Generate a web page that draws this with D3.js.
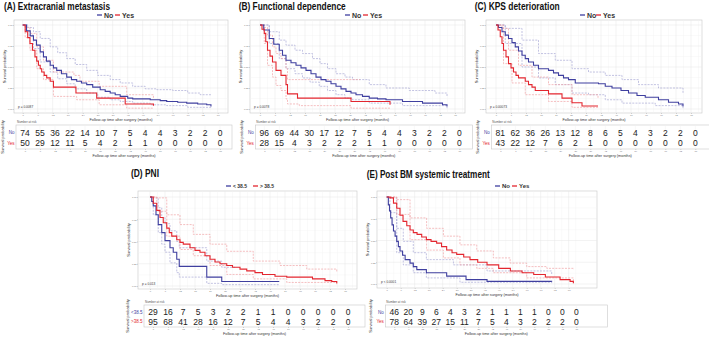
<!DOCTYPE html>
<html>
<head>
<meta charset="utf-8">
<script src="https://cdn.jsdelivr.net/npm/d3@7"></script>
<style>
  body { margin: 0; background: #fff; }
  svg { display: block; font-family: "Liberation Sans", Arial, sans-serif; }
</style>
</head>
<body>
<script>
// x tick labels (months) shared by every panel
var months = [0, 6, 12, 18, 24, 30, 36, 42, 48, 54, 60, 66, 72, 78];
var yTicks = [0, 0.25, 0.5, 0.75, 1];

// ---- (A) Extracranial metastasis
var A_no = [[0,1],[1.5,0.93],[3,0.87],[4.3,0.82],[5.5,0.76],[7,0.68],[8.3,0.62],[9.5,0.57],[11,0.52],[12.3,0.49],[13.6,0.46],[15.5,0.42],[17.6,0.38],[19.5,0.35],[21.6,0.33],[23.5,0.31],[25.6,0.29],[28,0.26],[31,0.23],[33,0.21],[35,0.19],[37,0.17],[39,0.15],[42,0.13],[44,0.12],[51,0.11],[55,0.10],[57.6,0.09],[62,0.08],[65.6,0.07],[70,0.06],[73.6,0.05],[75.3,0.03]];
var A_no_hi = [[0,1],[2,0.97],[4.3,0.92],[7,0.84],[11,0.74],[14,0.67],[17.6,0.60],[21,0.53],[25.6,0.46],[30,0.40],[35,0.35],[39,0.31],[44,0.27],[49,0.24],[53.6,0.23],[60,0.22],[66,0.19],[71,0.17],[75.3,0.17]];
var A_no_lo = [[0,1],[2,0.88],[4.3,0.72],[7,0.56],[11,0.44],[14,0.36],[17.6,0.30],[21,0.24],[25.6,0.19],[30,0.14],[35,0.11],[39,0.09],[44,0.07],[51,0.05],[57.6,0.04],[66,0.02],[75.3,0.01]];
var A_yes = [[0,1],[1,0.92],[2,0.85],[2.9,0.78],[3.9,0.70],[4.9,0.62],[5.6,0.57],[6.3,0.52],[7,0.48],[7.6,0.44],[8.6,0.40],[9.6,0.37],[11,0.33],[12.3,0.26],[21.3,0.19],[29.6,0.13],[41,0.06],[52.3,0.04]];
var A_yes_hi = [[0,1],[1,0.97],[2.9,0.90],[5.6,0.74],[8.3,0.58],[12.3,0.44],[20.5,0.40],[22.9,0.33],[30.6,0.27],[41.6,0.17],[52.3,0.13]];
var A_yes_lo = [[0,1],[1,0.85],[2.9,0.70],[5.6,0.48],[8.3,0.35],[12.3,0.15],[21.6,0.11],[30.6,0.05],[41.6,0.01],[52.3,0.01]];
var A_risk_no = [74, 55, 36, 22, 14, 10, 7, 5, 4, 4, 3, 2, 2, 0];
var A_risk_yes = [50, 29, 12, 11, 5, 4, 2, 1, 1, 0, 0, 0, 0, 0];

// ---- (B) Functional dependence
var B_no = [[0,1],[1.5,0.94],[3.7,0.84],[5.5,0.77],[7.7,0.70],[9,0.64],[10.4,0.58],[12.4,0.55],[14.4,0.52],[16.4,0.49],[18.4,0.46],[20.4,0.42],[22.4,0.38],[24.4,0.35],[26.4,0.33],[28.4,0.30],[30.4,0.27],[32.4,0.24],[34.4,0.21],[36.4,0.19],[38.4,0.17],[41,0.15],[43.7,0.13],[47,0.12],[50.4,0.11],[57,0.09],[65,0.07],[73,0.05],[74.8,0.03]];
var B_no_hi = [[0,1],[3.7,0.92],[7.7,0.82],[10.4,0.76],[14,0.70],[17,0.66],[21,0.60],[24,0.54],[27,0.48],[30.4,0.42],[34,0.38],[37,0.35],[43.7,0.29],[50.4,0.25],[59.7,0.22],[70,0.19],[74.8,0.15]];
var B_no_lo = [[0,1],[3.7,0.78],[7.7,0.60],[10.4,0.48],[14,0.42],[17,0.37],[20,0.32],[23.7,0.27],[27,0.22],[30.4,0.17],[34,0.13],[37,0.11],[43.7,0.07],[57,0.04],[74.8,0.01]];
var B_yes = [[0,1],[0.8,0.95],[1.7,0.90],[2.3,0.80],[3,0.70],[4,0.63],[5,0.56],[6.4,0.46],[8.4,0.40],[10.4,0.29],[11,0.18],[15,0.13],[36.4,0.09],[52,0.05]];
var B_yes_hi = [[0,1],[1.7,0.97],[3,0.88],[5,0.74],[6.4,0.66],[8.4,0.60],[10.4,0.48],[11,0.35],[40,0.35]];
var B_yes_lo = [[0,1],[1.7,0.78],[3,0.52],[5,0.38],[6.4,0.28],[8.4,0.22],[10.4,0.12],[11,0.06],[15.7,0.04],[36.4,0.01],[52,0.01]];
var B_risk_no = [96, 69, 44, 30, 17, 12, 7, 5, 4, 4, 3, 2, 2, 0];
var B_risk_yes = [28, 15, 4, 3, 2, 2, 2, 1, 1, 0, 0, 0, 0, 0];

// ---- (C) KPS deterioration
var C_no = [[0,1],[1,0.97],[2.4,0.92],[3.7,0.88],[5,0.84],[6.4,0.79],[7.7,0.74],[9,0.69],[10.4,0.64],[11.7,0.60],[13,0.56],[15,0.52],[17,0.48],[21,0.46],[23,0.43],[25,0.40],[27,0.37],[29,0.35],[31.7,0.31],[41,0.30],[43.7,0.27],[46.4,0.25],[50,0.22],[53,0.19],[56.4,0.16],[59.7,0.14],[65,0.11],[69,0.08],[73,0.06],[74.8,0.03]];
var C_no_hi = [[0,1],[3.7,0.96],[10.4,0.82],[17,0.66],[23.7,0.58],[30.4,0.48],[37,0.44],[43.7,0.40],[50.4,0.35],[57,0.29],[65,0.25],[74.8,0.19]];
var C_no_lo = [[0,1],[3.7,0.78],[10.4,0.50],[17,0.37],[23.7,0.29],[30.4,0.19],[37,0.17],[43.7,0.11],[50.4,0.07],[63.7,0.04],[74.8,0.01]];
var C_yes = [[0,1],[0.8,0.94],[1.7,0.86],[2.4,0.78],[3,0.70],[4,0.62],[5,0.54],[6,0.49],[7,0.44],[8,0.40],[9,0.37],[11.7,0.33],[13,0.29],[14.4,0.26],[15.7,0.22],[21,0.18],[26.4,0.13],[30.4,0.075],[34.4,0.035],[40.8,0.035]];
var C_yes_hi = [[0,1],[2.4,0.96],[5,0.70],[9,0.52],[14.4,0.38],[21,0.29],[30.4,0.17],[40.8,0.13]];
var C_yes_lo = [[0,1],[3,0.54],[6.4,0.31],[11.7,0.17],[21,0.09],[30.4,0.02],[40.8,0.01]];
var C_risk_no = [81, 62, 36, 26, 13, 12, 8, 6, 5, 4, 3, 2, 2, 0];
var C_risk_yes = [43, 22, 12, 7, 6, 2, 1, 0, 0, 0, 0, 0, 0, 0];

// ---- (D) PNI
var D_low = [[0,1],[0.7,0.95],[1.3,0.90],[2.4,0.80],[3.3,0.69],[4.7,0.60],[6,0.51],[8,0.43],[9.3,0.38],[10.7,0.30],[11.7,0.22],[22.7,0.10],[28.7,0.05],[51.7,0.05]];
var D_low_hi = [[0,1],[1.3,0.99],[3.3,0.88],[4.7,0.77],[6,0.70],[8,0.62],[10.7,0.50],[11.7,0.43],[22.7,0.28],[28.7,0.21],[34,0.21]];
var D_low_lo = [[0,1],[1.3,0.80],[3.3,0.60],[4.7,0.47],[6,0.38],[8,0.26],[10.7,0.15],[11.7,0.10],[22.7,0.03],[28.7,0.015],[51.7,0.015]];
var D_high = [[0,1],[1.3,0.93],[2.7,0.85],[4,0.77],[5.3,0.71],[6.7,0.65],[7.7,0.60],[8.7,0.56],[10.7,0.52],[12,0.49],[13.3,0.47],[16,0.43],[18,0.40],[20,0.38],[22,0.34],[24,0.30],[26,0.27],[28,0.25],[30.7,0.23],[33,0.21],[36,0.19],[38.7,0.17],[42,0.15],[45,0.13],[50,0.11],[54.7,0.10],[65,0.08],[70,0.06],[72.7,0.05],[74.7,0.03]];
var D_high_hi = [[0,1],[2.7,0.99],[6.7,0.80],[12,0.69],[17.3,0.58],[24,0.47],[30.7,0.39],[41.3,0.28],[52,0.23],[62.7,0.19],[74.7,0.16]];
var D_high_lo = [[0,1],[2.7,0.84],[6.7,0.56],[12,0.41],[17.3,0.34],[24,0.23],[30.7,0.13],[41.3,0.08],[54.7,0.04],[74.7,0.015]];
var D_risk_low = [29, 16, 7, 5, 3, 2, 2, 1, 1, 0, 0, 0, 0, 0];
var D_risk_high = [95, 68, 41, 28, 16, 12, 7, 5, 4, 4, 3, 2, 2, 0];

// ---- (E) Post BM systemic treatment
var E_no = [[0,1],[0.7,0.91],[1.2,0.84],[1.7,0.76],[2.3,0.68],[2.9,0.61],[3.6,0.55],[4.3,0.49],[5,0.43],[5.7,0.38],[6.8,0.33],[7.9,0.28],[10,0.24],[11.4,0.20],[12.9,0.165],[17,0.13],[25.7,0.09],[34,0.05],[43,0.03],[70.7,0.025]];
var E_no_hi = [[0,1],[1.4,0.99],[4.3,0.64],[7.1,0.49],[11.4,0.36],[17,0.28],[28.6,0.22],[43,0.15],[70.7,0.11]];
var E_no_lo = [[0,1],[1.4,0.82],[4.3,0.36],[7.1,0.22],[11.4,0.13],[17,0.07],[31.4,0.02],[70.7,0.01]];
var E_yes = [[0,1],[1.4,0.99],[2.9,0.93],[4.3,0.87],[5.7,0.79],[7,0.72],[8.6,0.67],[10,0.62],[11.4,0.59],[13,0.57],[15,0.54],[17,0.51],[19,0.49],[21.4,0.47],[23.5,0.43],[25.7,0.39],[28,0.36],[30,0.34],[33,0.31],[35.7,0.28],[39,0.25],[43,0.22],[48,0.18],[53,0.15],[58,0.13],[63,0.11],[68,0.08],[74.3,0.05],[78.6,0.03],[80,0.01]];
var E_yes_hi = [[0,1],[4.3,0.97],[10,0.76],[17.1,0.64],[24.3,0.55],[31.4,0.45],[38.6,0.38],[45.7,0.30],[52.9,0.24],[60,0.20],[68.6,0.18],[80,0.165]];
var E_yes_lo = [[0,1],[4.3,0.80],[10,0.51],[17.1,0.39],[24.3,0.30],[31.4,0.22],[38.6,0.18],[45.7,0.13],[60,0.07],[80,0.01]];
var E_risk_no = [46, 20, 9, 6, 4, 3, 2, 1, 1, 1, 1, 0, 0, 0];
var E_risk_yes = [78, 64, 39, 27, 15, 11, 7, 5, 4, 3, 2, 2, 2, 0];

var BLUE = "#3f3f9f", RED = "#e3262f";
var BLUE_CI = "#a9a9d6", RED_CI = "#f1a3a6";

// panel layout (pixels)
var panels = [
  {title: "(A) Extracranial metastasis", tx: 4, ty: 10, tw: 106,
   left: 14, right: 228, top: 20, bottom: 113, x0: 22.7, sp: 15, y1: 25, y0: 109,
   legY: 15, legX: [97, 115], legFs: 7, labels: ["No", "Yes"], p: "p = 0.0087",
   tx0: 25, tTop: 125, tBot: 149, yto: 12,
   curves: [[A_no, A_no_hi, A_no_lo], [A_yes, A_yes_hi, A_yes_lo]], risk: [A_risk_no, A_risk_yes]},
  {title: "(B) Functional dependence", tx: 238.7, ty: 10, tw: 107,
   left: 250, right: 465, top: 20, bottom: 113, x0: 260, sp: 15, y1: 25, y0: 109,
   legY: 15, legX: [345, 363], legFs: 7, labels: ["No", "Yes"], p: "p = 0.0078",
   tx0: 264.3, tTop: 125, tBot: 149, yto: 12,
   curves: [[B_no, B_no_hi, B_no_lo], [B_yes, B_yes_hi, B_yes_lo]], risk: [B_risk_no, B_risk_yes]},
  {title: "(C) KPS deterioration", tx: 474.7, ty: 10, tw: 85,
   left: 486, right: 702, top: 20, bottom: 113, x0: 496, sp: 15, y1: 25, y0: 109,
   legY: 15, legX: [580, 596], legFs: 7, labels: ["No", "Yes"], p: "p = 0.00073",
   tx0: 500.3, tTop: 125, tBot: 149, yto: 12,
   curves: [[C_no, C_no_hi, C_no_lo], [C_yes, C_yes_hi, C_yes_lo]], risk: [C_risk_no, C_risk_yes]},
  {title: "(D) PNI", tx: 131, ty: 177, tw: 28,
   left: 138, right: 357, top: 191, bottom: 289, x0: 150, sp: 15, y1: 197, y0: 286,
   legY: 186, legX: [226, 253], legFs: 5, labels: ["< 38.5", "> 38.5"], p: "p = 0.013",
   tx0: 153, tTop: 305, tBot: 327, rowLab: ["<38.5", ">38.5"], yto: 15,
   curves: [[D_low, D_low_hi, D_low_lo], [D_high, D_high_hi, D_high_lo]], risk: [D_risk_low, D_risk_high]},
  {title: "(E) Post BM systemic treatment", tx: 366.7, ty: 178, tw: 123,
   left: 377, right: 597, top: 191, bottom: 288, x0: 386.7, sp: 14, y1: 197, y0: 284,
   legY: 186, legX: [495, 512], legFs: 6, labels: ["No", "Yes"], p: "p < 0.0001",
   tx0: 394.3, tTop: 305, tBot: 327, yto: 13,
   curves: [[E_no, E_no_hi, E_no_lo], [E_yes, E_yes_hi, E_yes_lo]], risk: [E_risk_no, E_risk_yes]}
];

var svg = d3.select("body").append("svg")
  .attr("width", 709)
  .attr("height", 339);

function styleAxis(a) {
  a.select(".domain").remove();
  a.selectAll("line").attr("stroke", "#999").attr("stroke-width", 0.4);
  a.selectAll("text").attr("font-size", 2.4).attr("fill", "#777");
}

function drawPanel(c) {
  var g = svg.append("g");
  var x = d3.scaleLinear().domain([0, 78]).range([c.x0, c.x0 + 13 * c.sp]);
  var y = d3.scaleLinear().domain([0, 1]).range([c.y0, c.y1]);
  var cols = [BLUE, RED], ciCols = [BLUE_CI, RED_CI];

  // title
  g.append("text").attr("x", c.tx).attr("y", c.ty)
    .attr("font-size", 10).attr("font-weight", "bold").attr("fill", "#111")
    .attr("textLength", c.tw).attr("lengthAdjust", "spacingAndGlyphs")
    .text(c.title);

  // legend
  c.legX.forEach(function(lx, i) {
    g.append("line").attr("x1", lx).attr("x2", lx + 5)
      .attr("y1", c.legY).attr("y2", c.legY)
      .attr("stroke", cols[i]).attr("stroke-width", 1.3);
    g.append("text").attr("x", lx + 7).attr("y", c.legY + c.legFs * 0.36)
      .attr("font-size", c.legFs).attr("font-weight", "bold").attr("fill", "#333")
      .text(c.labels[i]);
  });

  // plot panel
  g.append("rect").attr("x", c.left).attr("y", c.top)
    .attr("width", c.right - c.left).attr("height", c.bottom - c.top)
    .attr("fill", "#fff").attr("stroke", "#c8c8c8").attr("stroke-width", 0.6);

  var minor = months.slice(0, -1).map(function(m) { return m + 3; }).concat([81]);
  minor.forEach(function(m) {
    if (x(m) < c.right) g.append("line").attr("x1", x(m)).attr("x2", x(m))
      .attr("y1", c.top).attr("y2", c.bottom).attr("stroke", "#f3f3f3").attr("stroke-width", 0.4);
  });
  [0.125, 0.375, 0.625, 0.875].forEach(function(v) {
    g.append("line").attr("x1", c.left).attr("x2", c.right)
      .attr("y1", y(v)).attr("y2", y(v)).attr("stroke", "#f3f3f3").attr("stroke-width", 0.4);
  });
  months.forEach(function(m) {
    g.append("line").attr("x1", x(m)).attr("x2", x(m))
      .attr("y1", c.top).attr("y2", c.bottom).attr("stroke", "#e6e6e6").attr("stroke-width", 0.5);
  });
  yTicks.forEach(function(v) {
    g.append("line").attr("x1", c.left).attr("x2", c.right)
      .attr("y1", y(v)).attr("y2", y(v)).attr("stroke", "#e6e6e6").attr("stroke-width", 0.5);
  });

  // axes
  g.append("g").attr("transform", "translate(0," + c.bottom + ")")
    .call(d3.axisBottom(x).tickValues(months).tickSize(1).tickPadding(0.3))
    .call(styleAxis);
  g.append("g").attr("transform", "translate(" + c.left + ",0)")
    .call(d3.axisLeft(y).tickValues(yTicks).tickFormat(d3.format(".2f")).tickSize(1).tickPadding(0.4))
    .call(styleAxis);

  g.append("text").attr("x", (c.left + c.right) / 2).attr("y", c.bottom + 7.5)
    .attr("text-anchor", "middle").attr("font-size", 3.8).attr("fill", "#333")
    .text("Follow-up time after surgery (months)");
  g.append("text")
    .attr("transform", "translate(" + (c.left - 8) + "," + ((c.top + c.bottom) / 2) + ") rotate(-90)")
    .attr("text-anchor", "middle").attr("font-size", 4).attr("fill", "#333")
    .text("Survival probability");

  // curves
  var line = d3.line().x(function(d) { return x(d[0]); }).y(function(d) { return y(d[1]); })
    .curve(d3.curveStepAfter);
  c.curves.forEach(function(cv, i) {
    [cv[1], cv[2]].forEach(function(ci) {
      g.append("path").datum(ci).attr("d", line).attr("fill", "none")
        .attr("stroke", ciCols[i]).attr("stroke-width", 0.7).attr("stroke-dasharray", "2,1.2");
    });
  });
  c.curves.forEach(function(cv, i) {
    g.append("path").datum(cv[0]).attr("d", line).attr("fill", "none")
      .attr("stroke", cols[i]).attr("stroke-width", 1.1);
  });

  g.append("text").attr("x", c.left + 4).attr("y", c.y0 - 1)
    .attr("font-size", 3.2).attr("fill", "#333").text(c.p);

  // risk table
  var tx = d3.scaleLinear().domain([0, 78]).range([c.tx0, c.tx0 + 13 * c.sp]);
  var tl = c.tx0 - 9, tr = tl + (c.right - c.left) + 2;
  var rowY = [c.tTop + (c.tBot - c.tTop) * 0.33, c.tTop + (c.tBot - c.tTop) * 0.77];
  g.append("rect").attr("x", tl).attr("y", c.tTop)
    .attr("width", tr - tl).attr("height", c.tBot - c.tTop)
    .attr("fill", "#fff").attr("stroke", "#c8c8c8").attr("stroke-width", 0.6);
  months.forEach(function(m) {
    g.append("line").attr("x1", tx(m)).attr("x2", tx(m))
      .attr("y1", c.tTop).attr("y2", c.tBot).attr("stroke", "#eeeeee").attr("stroke-width", 0.5);
  });
  g.append("text").attr("x", tl + 1).attr("y", c.tTop - 2)
    .attr("font-size", 3).attr("fill", "#555").text("Number at risk");
  g.append("g").attr("transform", "translate(0," + c.tBot + ")")
    .call(d3.axisBottom(tx).tickValues(months).tickSize(1).tickPadding(0.3))
    .call(styleAxis);
  g.append("text").attr("x", (tl + tr) / 2).attr("y", c.tBot + 7.5)
    .attr("text-anchor", "middle").attr("font-size", 3.8).attr("fill", "#333")
    .text("Follow-up time after surgery (months)");
  g.append("text")
    .attr("transform", "translate(" + (tl - c.yto) + "," + ((c.tTop + c.tBot) / 2) + ") rotate(-90)")
    .attr("text-anchor", "middle").attr("font-size", 4).attr("fill", "#333")
    .text("Survival probability");

  var rowLab = c.rowLab || c.labels;
  c.risk.forEach(function(row, i) {
    g.append("text").attr("x", tl - 1.5).attr("y", rowY[i] + 1.5)
      .attr("text-anchor", "end").attr("font-size", 4.5).attr("fill", cols[i])
      .text(rowLab[i]);
    g.selectAll(null).data(row).enter().append("text")
      .attr("x", function(d, j) { return tx(months[j]); })
      .attr("y", rowY[i] + 3)
      .attr("text-anchor", "middle").attr("font-size", 8.5).attr("fill", "#222")
      .text(function(d) { return d; });
  });
}

panels.forEach(drawPanel);
</script>
</body>
</html>
